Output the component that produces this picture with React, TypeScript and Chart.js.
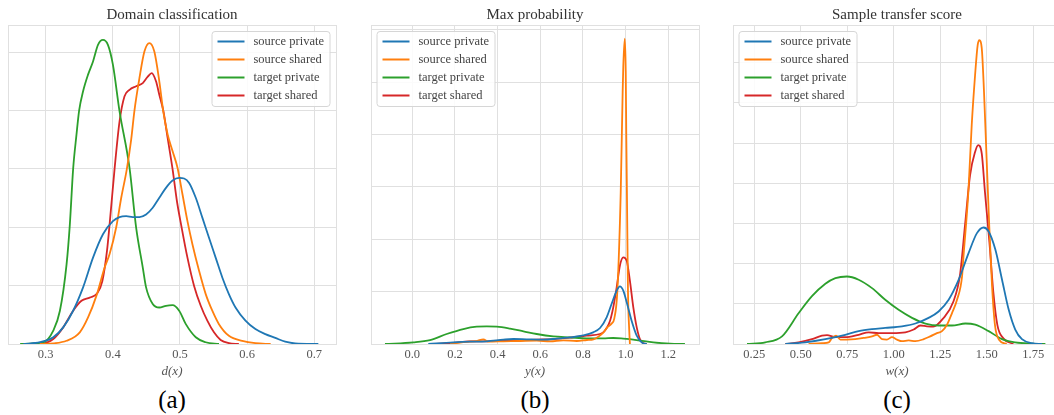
import React, { useEffect, useRef } from 'react';
import { Chart, registerables } from 'chart.js';

Chart.register(...registerables);

const FONT = "'Liberation Serif', 'Times New Roman', serif";
const GRID = '#e0e0e0';
const COLORS = ['#1f77b4', '#ff7f0e', '#2ca02c', '#d62728'];
const seriesLabels = ['source private', 'source shared', 'target private', 'target shared'];

// ---------- (a) Domain classification, d(x) ----------
const domainTicks = [0.3, 0.4, 0.5, 0.6, 0.7];
const domainTickLabels = ['0.3', '0.4', '0.5', '0.6', '0.7'];
const domainGrid = [0, 2, 4, 6, 8, 10];
const domainSourcePrivate: [number, number][] = [
  [0.2669, 0], [0.2916, 0.06], [0.3113, 0.23], [0.3261, 0.57], [0.3409, 1.14], [0.3557, 1.94],
  [0.3705, 2.96], [0.3853, 3.76], [0.4001, 4.21], [0.41, 4.35], [0.4199, 4.38], [0.4297, 4.35],
  [0.4396, 4.35], [0.4495, 4.44], [0.4594, 4.67], [0.4692, 5.01], [0.4791, 5.35], [0.4889, 5.6],
  [0.4988, 5.69], [0.5062, 5.67], [0.5136, 5.52], [0.5235, 5.01], [0.5333, 4.33], [0.5432, 3.64],
  [0.5531, 2.96], [0.563, 2.28], [0.5728, 1.71], [0.5827, 1.25], [0.5975, 0.8], [0.6123, 0.51],
  [0.6271, 0.34], [0.6419, 0.21], [0.6567, 0.08], [0.6715, 0.02], [0.706, 0],
];
const domainSourceShared: [number, number][] = [
  [0.2916, 0], [0.3113, 0.02], [0.3311, 0.11], [0.3508, 0.4], [0.3631, 0.91], [0.3755, 1.65],
  [0.3878, 2.62], [0.3952, 3.08], [0.4051, 4.01], [0.4125, 5.01], [0.4209, 6.0], [0.4273, 7.0],
  [0.4322, 8.0], [0.4396, 9.11], [0.447, 10.02], [0.4544, 10.31], [0.4618, 10.02], [0.4692, 9.0],
  [0.4751, 7.97], [0.4816, 7.18], [0.4889, 6.61], [0.4963, 6.04], [0.5037, 5.13], [0.5111, 4.21],
  [0.5185, 3.42], [0.5284, 2.51], [0.5383, 1.71], [0.5481, 1.14], [0.558, 0.68], [0.5728, 0.28],
  [0.5926, 0.11], [0.6123, 0.03], [0.635, 0],
];
const domainTargetPrivate: [number, number][] = [
  [0.262, 0], [0.2965, 0.06], [0.3113, 0.46], [0.3212, 1.14], [0.3311, 2.73], [0.336, 4.1],
  [0.3409, 6.0], [0.3459, 7.18], [0.3498, 8.0], [0.3557, 8.66], [0.3631, 9.23], [0.3705, 9.68],
  [0.3779, 10.25], [0.3853, 10.42], [0.3927, 10.25], [0.4001, 9.57], [0.41, 7.97], [0.4248, 6.04],
  [0.4347, 3.99], [0.4446, 2.62], [0.4495, 1.94], [0.4594, 1.37], [0.4692, 1.25], [0.4791, 1.31],
  [0.4889, 1.33], [0.4988, 1.14], [0.5087, 0.68], [0.5235, 0.23], [0.5383, 0.06], [0.558, 0],
];
const domainTargetShared: [number, number][] = [
  [0.2965, 0], [0.3113, 0.17], [0.3261, 0.57], [0.3409, 1.14], [0.3533, 1.48], [0.3656, 1.59],
  [0.3765, 1.73], [0.3844, 2.16], [0.3913, 3.19], [0.3952, 4.1], [0.4026, 6.0], [0.41, 7.63],
  [0.4174, 8.49], [0.4248, 8.71], [0.4347, 8.83], [0.4446, 8.94], [0.452, 9.16], [0.4579, 9.28],
  [0.4643, 9.0], [0.4692, 8.54], [0.4751, 8.0], [0.4816, 7.06], [0.4889, 6.0], [0.4954, 4.9],
  [0.5023, 4.01], [0.5111, 2.96], [0.521, 1.99], [0.5309, 1.31], [0.5407, 0.8], [0.5506, 0.4],
  [0.5605, 0.14], [0.5728, 0.03], [0.5876, 0],
];

// ---------- (b) Max probability, y(x) ----------
const probTicks = [0.0, 0.2, 0.4, 0.6, 0.8, 1.0, 1.2];
const probTickLabels = ['0.0', '0.2', '0.4', '0.6', '0.8', '1.0', '1.2'];
const probGrid = [0, 10, 20, 30, 40, 50, 60];
const probSourcePrivate: [number, number][] = [
  [0.075, 0], [0.192, 0.32], [0.27, 0.45], [0.348, 0.51], [0.427, 0.83], [0.474, 0.95],
  [0.536, 0.89], [0.614, 0.83], [0.677, 1.02], [0.739, 1.27], [0.802, 1.65], [0.848, 2.23],
  [0.88, 3.05], [0.911, 5.09], [0.934, 7.63], [0.958, 10.18], [0.973, 11.0], [0.989, 10.18],
  [1.005, 7.95], [1.028, 4.45], [1.052, 1.59], [1.075, 0.32], [1.099, 0],
];
const probSourceShared: [number, number][] = [
  [0.177, 0], [0.239, 0.38], [0.302, 0.57], [0.333, 0.89], [0.356, 0.45], [0.427, 0.51],
  [0.505, 0.57], [0.583, 0.64], [0.646, 0.51], [0.708, 0.7], [0.771, 0.57], [0.818, 0.76],
  [0.849, 0.89], [0.872, 1.4], [0.895, 2.16], [0.914, 3.18], [0.935, 3.94], [0.947, 4.9],
  [0.961, 10], [0.977, 29], [0.986, 48], [0.989, 53], [0.996, 58.3], [1.0005, 52],
  [1.003, 40], [1.006, 29], [1.011, 10], [1.017, 2.5], [1.02, 0],
];
const probTargetPrivate: [number, number][] = [
  [-0.128, 0], [0.005, 0.32], [0.083, 0.76], [0.161, 1.91], [0.239, 2.86], [0.302, 3.31],
  [0.349, 3.37], [0.396, 3.31], [0.458, 2.93], [0.521, 2.42], [0.583, 1.91], [0.661, 1.46],
  [0.739, 1.27], [0.817, 1.08], [0.895, 1.08], [0.942, 1.15], [0.989, 1.02], [1.051, 0.76],
  [1.13, 0.32], [1.208, 0.06], [1.278, 0],
];
const probTargetShared: [number, number][] = [
  [0.098, 0], [0.192, 0.19], [0.27, 0.51], [0.348, 0.51], [0.427, 0.64], [0.505, 0.7],
  [0.583, 0.83], [0.661, 0.95], [0.739, 1.21], [0.817, 1.59], [0.88, 1.91], [0.895, 2.23],
  [0.911, 3.05], [0.927, 4.45], [0.942, 7.0], [0.958, 10.81], [0.973, 14.95], [0.989, 16.54],
  [1.005, 15.9], [1.02, 12.09], [1.036, 7.0], [1.052, 3.18], [1.067, 0.95], [1.083, 0.13], [1.099, 0],
];

// ---------- (c) Sample transfer score, w(x) ----------
const transferTicks = [0.25, 0.5, 0.75, 1.0, 1.25, 1.5, 1.75];
const transferTickLabels = ['0.25', '0.50', '0.75', '1.00', '1.25', '1.50', '1.75'];
const transferGrid = [0, 1, 2, 3, 4, 5, 6, 7];
const transferSourcePrivate: [number, number][] = [
  [0.417, 0], [0.524, 0.04], [0.632, 0.12], [0.739, 0.23], [0.811, 0.32], [0.883, 0.37],
  [0.954, 0.4], [1.044, 0.44], [1.116, 0.51], [1.187, 0.65], [1.241, 0.81], [1.295, 1.1],
  [1.349, 1.6], [1.402, 2.26], [1.447, 2.76], [1.483, 2.9], [1.51, 2.8], [1.546, 2.35],
  [1.582, 1.6], [1.618, 0.85], [1.653, 0.36], [1.689, 0.12], [1.743, 0.02], [1.797, 0],
];
const transferSourceShared: [number, number][] = [
  [0.542, 0], [0.614, 0.02], [0.65, 0.04], [0.668, 0.15], [0.689, 0.21], [0.713, 0.11],
  [0.748, 0.11], [0.793, 0.12], [0.838, 0.15], [0.883, 0.19], [0.91, 0.23], [0.937, 0.12],
  [0.963, 0.11], [0.99, 0.17], [1.017, 0.11], [1.044, 0.07], [1.08, 0.09], [1.116, 0.07],
  [1.161, 0.12], [1.196, 0.19], [1.232, 0.27], [1.259, 0.32], [1.286, 0.48], [1.313, 0.77],
  [1.34, 1.1], [1.367, 1.68], [1.374, 2.13], [1.401, 3.79], [1.419, 5.45], [1.437, 6.69],
  [1.451, 7.44], [1.46, 7.56], [1.473, 7.36], [1.485, 6.28], [1.499, 4.62], [1.513, 2.96],
  [1.528, 1.47], [1.544, 0.47], [1.567, 0.1], [1.607, 0],
];
const transferTargetPrivate: [number, number][] = [
  [0.211, 0], [0.309, 0.04], [0.399, 0.19], [0.489, 0.77], [0.56, 1.19], [0.632, 1.5],
  [0.686, 1.64], [0.748, 1.68], [0.811, 1.6], [0.883, 1.39], [0.954, 1.1], [1.026, 0.85],
  [1.098, 0.65], [1.17, 0.51], [1.241, 0.46], [1.313, 0.46], [1.385, 0.51], [1.438, 0.48],
  [1.51, 0.32], [1.582, 0.12], [1.653, 0.04], [1.743, 0.01], [1.815, 0],
];
const transferTargetShared: [number, number][] = [
  [0.417, 0], [0.488, 0.04], [0.56, 0.12], [0.614, 0.21], [0.641, 0.22], [0.686, 0.17],
  [0.739, 0.17], [0.811, 0.23], [0.865, 0.29], [0.919, 0.27], [0.99, 0.27], [1.062, 0.29],
  [1.107, 0.36], [1.143, 0.46], [1.178, 0.44], [1.212, 0.43], [1.266, 0.64], [1.32, 1.05],
  [1.356, 1.72], [1.383, 2.96], [1.41, 4.2], [1.437, 4.78], [1.454, 4.95], [1.473, 4.74],
  [1.49, 3.79], [1.514, 2.54], [1.535, 1.3], [1.557, 0.47], [1.589, 0.14], [1.643, 0],
];

const framePlugin = {
  id: 'frame',
  beforeDatasetsDraw(chart: any) {
    const { ctx, chartArea: a } = chart;
    ctx.save();
    ctx.strokeStyle = GRID;
    ctx.lineWidth = 1;
    ctx.strokeRect(a.left + 0.5, a.top + 0.5, a.right - a.left, a.bottom - a.top);
    ctx.restore();
  },
};

const boxLegendPlugin = {
  id: 'boxLegend',
  afterDraw(chart: any, _args: any, opts: any) {
    const { ctx, chartArea: a } = chart;
    const w = 118;
    const h = 75;
    const x = opts.side === 'right' ? a.right - 6 - w : a.left + 6;
    const y = a.top + 6.5;
    ctx.save();
    ctx.beginPath();
    const r = 3;
    ctx.moveTo(x + r, y);
    ctx.lineTo(x + w - r, y);
    ctx.quadraticCurveTo(x + w, y, x + w, y + r);
    ctx.lineTo(x + w, y + h - r);
    ctx.quadraticCurveTo(x + w, y + h, x + w - r, y + h);
    ctx.lineTo(x + r, y + h);
    ctx.quadraticCurveTo(x, y + h, x, y + h - r);
    ctx.lineTo(x, y + r);
    ctx.quadraticCurveTo(x, y, x + r, y);
    ctx.closePath();
    ctx.fillStyle = 'rgba(255,255,255,0.85)';
    ctx.fill();
    ctx.strokeStyle = '#d6d6d6';
    ctx.lineWidth = 1;
    ctx.stroke();
    chart.data.datasets.forEach((ds: any, i: number) => {
      const cy = y + 10 + i * 18;
      ctx.strokeStyle = ds.borderColor;
      ctx.lineWidth = 2;
      ctx.beginPath();
      ctx.moveTo(x + 5.5, cy);
      ctx.lineTo(x + 32.5, cy);
      ctx.stroke();
      ctx.fillStyle = '#444';
      ctx.font = `12.5px ${FONT}`;
      ctx.textBaseline = 'middle';
      ctx.textAlign = 'left';
      ctx.fillText(ds.label, x + 41.5, cy);
    });
    ctx.restore();
  },
};

type PanelProps = {
  left: number;
  width: number;
  padLeft: number;
  padRight: number;
  title: string;
  xTitle: string;
  xMin: number;
  xMax: number;
  xTicks: number[];
  xTickLabels: string[];
  yMax: number;
  yTicks: number[];
  series: [number, number][][];
  legendSide: 'left' | 'right';
};

function Panel(p: PanelProps) {
  const ref = useRef<HTMLCanvasElement>(null);
  useEffect(() => {
    if (!ref.current) return;
    const chart = new Chart(ref.current, {
      type: 'line',
      data: {
        datasets: p.series.map((pts, i) => ({
          label: seriesLabels[i],
          data: pts.map(([x, y]) => ({ x, y })),
          borderColor: COLORS[i],
          backgroundColor: COLORS[i],
          borderWidth: 1.8,
          pointRadius: 0,
          fill: false,
          cubicInterpolationMode: 'monotone' as const,
        })),
      },
      options: {
        responsive: false,
        animation: false,
        devicePixelRatio: 1,
        layout: { padding: { left: p.padLeft, right: p.padRight, top: 0, bottom: 0 } },
        plugins: {
          legend: { display: false },
          tooltip: { enabled: false },
          title: {
            display: true,
            text: p.title,
            color: '#333',
            font: { family: FONT, size: 15, weight: 'normal' },
            padding: { top: 6, bottom: 1 },
          },
          boxLegend: { side: p.legendSide },
        } as any,
        scales: {
          x: {
            type: 'linear',
            min: p.xMin,
            max: p.xMax,
            afterBuildTicks: (s: any) => {
              s.ticks = p.xTicks.map((v) => ({ value: v }));
            },
            afterFit: (s: any) => {
              s.height = 41;
            },
            ticks: {
              autoSkip: false,
              maxRotation: 0,
              padding: 3.5,
              color: '#555',
              font: { family: FONT, size: 12.5 },
              callback: (_v: any, i: number) => p.xTickLabels[i],
            },
            grid: { color: GRID, drawTicks: false, lineWidth: 1 },
            border: { display: false },
            title: {
              display: true,
              text: p.xTitle,
              color: '#555',
              font: { family: FONT, size: 13, style: 'italic' },
              padding: { top: 0, bottom: 6 },
            },
          },
          y: {
            type: 'linear',
            min: 0,
            max: p.yMax,
            afterBuildTicks: (s: any) => {
              s.ticks = p.yTicks.map((v) => ({ value: v }));
            },
            afterFit: (s: any) => {
              s.width = 0;
            },
            ticks: { display: false },
            grid: { color: GRID, drawTicks: false, lineWidth: 1 },
            border: { display: false },
          },
        } as any,
      },
      plugins: [framePlugin, boxLegendPlugin],
    });
    return () => chart.destroy();
  }, []);
  return (
    <canvas
      ref={ref}
      width={p.width}
      height={385}
      style={{ position: 'absolute', left: p.left, top: 0, width: p.width, height: 385 }}
    />
  );
}

function Caption({ cx, text }: { cx: number; text: string }) {
  return (
    <div
      style={{
        position: 'absolute',
        left: cx - 40,
        top: 385,
        width: 80,
        height: 30,
        lineHeight: '30px',
        fontSize: 25,
        fontFamily: FONT,
        color: '#000',
        textAlign: 'center',
      }}
    >
      {text}
    </div>
  );
}

export default function App() {
  return (
    <div
      style={{
        position: 'absolute',
        left: 0,
        top: 0,
        width: 1054,
        height: 415,
        overflow: 'hidden',
        background: '#fff',
      }}
    >
      <Panel
        left={0}
        width={345}
        padLeft={8}
        padRight={9}
        title="Domain classification"
        xTitle="d(x)"
        xMin={0.2439}
        xMax={0.7323}
        xTicks={domainTicks}
        xTickLabels={domainTickLabels}
        yMax={10.93}
        yTicks={domainGrid}
        series={[domainSourcePrivate, domainSourceShared, domainTargetPrivate, domainTargetShared]}
        legendSide="right"
      />
      <Panel
        left={350}
        width={360}
        padLeft={21}
        padRight={11}
        title="Max probability"
        xTitle="y(x)"
        xMin={-0.1936}
        xMax={1.3439}
        xTicks={probTicks}
        xTickLabels={probTickLabels}
        yMax={60.9}
        yTicks={probGrid}
        series={[probSourcePrivate, probSourceShared, probTargetPrivate, probTargetShared]}
        legendSide="left"
      />
      <Panel
        left={710}
        width={361}
        padLeft={23}
        padRight={10}
        title="Sample transfer score"
        xTitle="w(x)"
        xMin={0.1355}
        xMax={1.899}
        xTicks={transferTicks}
        xTickLabels={transferTickLabels}
        yMax={7.94}
        yTicks={transferGrid}
        series={[transferSourcePrivate, transferSourceShared, transferTargetPrivate, transferTargetShared]}
        legendSide="left"
      />
      <Caption cx={172} text="(a)" />
      <Caption cx={535} text="(b)" />
      <Caption cx={897} text="(c)" />
    </div>
  );
}
